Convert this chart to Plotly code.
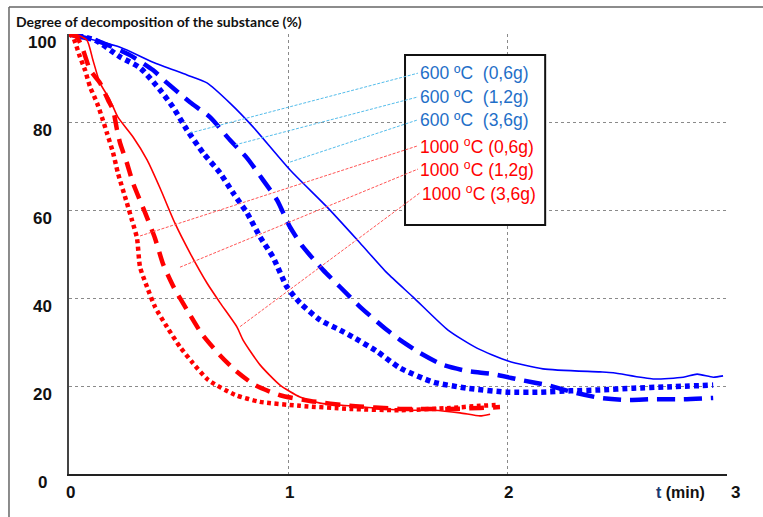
import plotly.graph_objects as go

# ---- data ----
x_b36 = [0, 0.233, 0.383, 0.538, 0.629, 0.734, 0.839, 1.008, 1.176, 1.327, 1.450, 1.569, 1.728, 1.860, 2.002, 2.161, 2.421, 2.481, 2.663, 2.800, 2.864, 2.937, 2.982]
y_b36 = [100, 97.0, 93.6, 90.7, 88.9, 84.3, 78.9, 69.1, 60.7, 52.5, 45.7, 40.2, 32.7, 28.6, 25.7, 23.9, 23.2, 23.0, 21.6, 22.0, 22.7, 22.0, 22.3]

x_b12 = [0, 0.141, 0.278, 0.383, 0.447, 0.552, 0.643, 0.734, 0.812, 0.885, 0.948, 1.008, 1.067, 1.158, 1.236, 1.327, 1.450, 1.509, 1.601, 1.705, 1.815, 1.933, 2.057, 2.180, 2.298, 2.421, 2.544, 2.663, 2.800, 2.937]
y_b12 = [100, 98.2, 95.2, 91.8, 88.9, 84.5, 81.1, 75.9, 71.8, 66.8, 62.3, 56.1, 51.6, 46.4, 42.5, 38.0, 32.7, 30.5, 27.5, 24.8, 23.4, 22.7, 21.4, 20.2, 18.6, 17.3, 16.8, 17.0, 17.0, 17.3]

x_b06 = [0, 0.119, 0.233, 0.324, 0.415, 0.474, 0.538, 0.611, 0.689, 0.748, 0.812, 0.871, 0.930, 0.994, 1.053, 1.145, 1.236, 1.295, 1.400, 1.509, 1.660, 1.815, 1.997, 2.148, 2.285, 2.421, 2.572, 2.727, 2.937]
y_b06 = [100, 98.6, 94.8, 92.3, 87.3, 83.4, 78.2, 73.0, 68.4, 63.9, 59.3, 53.9, 49.3, 42.5, 38.9, 35.0, 32.7, 31.1, 28.0, 24.1, 20.9, 19.5, 18.6, 18.6, 18.9, 19.1, 19.5, 19.8, 20.2]

x_r36 = [0, 0.036, 0.082, 0.109, 0.141, 0.187, 0.223, 0.292, 0.356, 0.415, 0.483, 0.552, 0.629, 0.689, 0.766, 0.793, 0.871, 0.962, 1.053, 1.145, 1.281, 1.509, 1.660, 1.783, 1.874, 1.920]
y_r36 = [100, 99.8, 98.6, 94.1, 88.9, 85.0, 81.1, 76.6, 71.4, 65.0, 57.0, 50.2, 43.4, 38.9, 33.4, 30.5, 24.8, 20.2, 17.5, 16.1, 15.5, 14.5, 14.5, 13.9, 13.2, 13.6]

x_r12 = [0, 0.036, 0.064, 0.096, 0.141, 0.178, 0.201, 0.219, 0.233, 0.264, 0.292, 0.346, 0.392, 0.429, 0.479, 0.538, 0.606, 0.688, 0.757, 0.848, 0.962, 1.099, 1.281, 1.509, 1.737, 1.874, 1.965]
y_r12 = [100, 99.3, 96.4, 91.8, 88.9, 85.0, 82.7, 78.2, 75.2, 70.7, 66.1, 59.5, 53.6, 47.7, 42.3, 37.3, 31.8, 27.0, 23.6, 20.2, 17.9, 16.6, 15.5, 14.8, 14.8, 15.0, 15.2]

x_r06 = [0, 0.018, 0.050, 0.073, 0.096, 0.128, 0.150, 0.173, 0.201, 0.223, 0.264, 0.287, 0.310, 0.324, 0.356, 0.392, 0.447, 0.506, 0.565, 0.634, 0.757, 0.871, 1.053, 1.281, 1.509, 1.737, 1.874, 1.956]
y_r06 = [100, 99.3, 94.8, 91.8, 88.0, 84.3, 81.1, 77.5, 73.0, 68.4, 61.6, 57.7, 53.6, 47.0, 42.5, 38.0, 33.4, 28.9, 25.2, 21.4, 18.0, 16.4, 15.5, 14.8, 14.5, 15.0, 15.5, 15.7]

legend_labels = ["600 ºC  (0,6g)", "600 ºC  (1,2g)", "600 ºC  (3,6g)",
                 "1000 <sup>o</sup>C (0,6g)", "1000 <sup>o</sup>C (1,2g)", "1000 <sup>o</sup>C (3,6g)"]
legend_y = [91.1, 85.7, 80.5, 74.6, 69.3, 63.9]
# leader line ends on curves (x, y) -> legend text start
leader_curve_x = [0.552, 0.757, 1.008, 0.324, 0.506, 0.780]
leader_curve_y = [77.5, 74.8, 70.9, 54.1, 47.0, 33.5]
leader_text_x = [1.591, 1.591, 1.591, 1.591, 1.591, 1.600]

x_ticks = [0, 1, 2, 3]
y_ticks = [0, 20, 40, 60, 80, 100]

BLUE = "#0000FF"
RED = "#FF0000"
SANS = "Liberation Sans, Arial, sans-serif"

fig = go.Figure()
series = [
    (x_b36, y_b36, BLUE, 1.6, "solid"),
    (x_b12, y_b12, BLUE, 4.5, "18px,9px"),
    (x_b06, y_b06, BLUE, 5.5, "5px,4px"),
    (x_r36, y_r36, RED, 1.6, "solid"),
    (x_r12, y_r12, RED, 4.5, "15px,9px"),
    (x_r06, y_r06, RED, 4.5, "4px,3.5px"),
]
for xs, ys, c, w, d in series:
    fig.add_trace(go.Scatter(x=xs, y=ys, mode="lines", line=dict(color=c, width=w, dash=d, shape="spline", smoothing=0.6),
                             showlegend=False, hoverinfo="skip"))

shapes = []
# legend box
shapes.append(dict(type="rect", xref="x", yref="y", x0=1.532, x1=2.171, y0=56.6, y1=95.2,
                   line=dict(color="#111", width=2), fillcolor="white", layer="above"))
for i in range(6):
    col = "#55BDEB" if i < 3 else "#FF5555"
    shapes.append(dict(type="line", xref="x", yref="y", x0=leader_curve_x[i], y0=leader_curve_y[i],
                       x1=leader_text_x[i], y1=legend_y[i], line=dict(color=col, width=1, dash="3px,1.5px"), layer="above"))
# outer frame
shapes.append(dict(type="line", xref="paper", yref="paper", x0=-0.0912, x1=1.1, y0=1.0614, y1=1.0614,
                   line=dict(color="#666", width=1.5)))
shapes.append(dict(type="line", xref="paper", yref="paper", x0=-0.0912, x1=-0.0912, y0=1.0614, y1=-0.2,
                   line=dict(color="#666", width=1.5)))

annotations = []
for i, t in enumerate(legend_labels):
    annotations.append(dict(x=leader_text_x[i], y=legend_y[i], xref="x", yref="y", text=t, showarrow=False,
                            xanchor="left", yanchor="middle",
                            font=dict(family=SANS, size=17.5, color="#1F6FC8" if i < 3 else RED)))
for v in y_ticks:
    annotations.append(dict(x=-0.041, y=v, xref="paper", yref="y", text=str(v), showarrow=False,
                            xanchor="center", yanchor="middle", yshift=-8,
                            font=dict(family=SANS, size=17, color="#111", weight="bold")))
for v in x_ticks:
    annotations.append(dict(x=v, y=-0.043, xref="x", yref="paper", text=str(v), showarrow=False,
                            xanchor="center", yanchor="middle", xshift=8 if v == 3 else 1,
                            font=dict(family=SANS, size=17, color="#111", weight="bold")))
annotations.append(dict(x=2.79, y=-0.043, xref="x", yref="paper",
                        text="<span style='color:#1a3a70'>t</span> (min)", showarrow=False,
                        xanchor="center", yanchor="middle",
                        font=dict(family=SANS, size=16, color="#111", weight="bold")))
annotations.append(dict(x=-0.0836, y=1.0295, xref="paper", yref="paper",
                        text="Degree of decomposition of the substance (%)", showarrow=False,
                        xanchor="left", yanchor="middle",
                        font=dict(family="Lato, Open Sans, sans-serif", size=14, color="#111", weight="bold")))

fig.update_layout(
    width=763, height=517,
    margin=dict(l=69, r=36, t=34, b=43),
    paper_bgcolor="white", plot_bgcolor="white",
    shapes=shapes, annotations=annotations,
    xaxis=dict(range=[0, 3], tickvals=x_ticks, showticklabels=False, showgrid=True, gridcolor="#8a8a8a",
               griddash="dot", gridwidth=1, zeroline=False, showline=True, linecolor="#222", linewidth=1.5, ticks=""),
    yaxis=dict(range=[0, 100], tickvals=y_ticks, showticklabels=False, showgrid=True, gridcolor="#8a8a8a",
               griddash="dot", gridwidth=1, zeroline=False, showline=True, linecolor="#444", linewidth=1.5, ticks=""),
)
fig.write_html("out.html", config={"displayModeBar": False},
               post_script="document.body.style.margin='0';document.body.style.padding='0';")
